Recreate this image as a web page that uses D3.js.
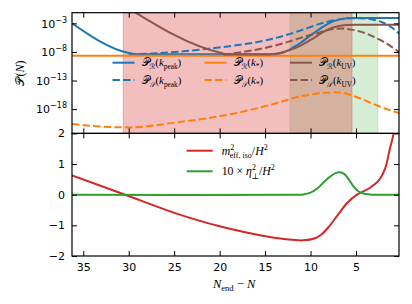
<!DOCTYPE html>
<html>
<head>
<meta charset="utf-8">
<script src="https://cdn.jsdelivr.net/npm/d3@7"></script>
<style>
  body { margin: 0; background: #fff; }
  svg { display: block; }
</style>
</head>
<body>
<svg id="chart"></svg>
<script>
// N_end - N en el eje x, invertido
const N_TICKS = [35, 30, 25, 20, 15, 10, 5];
const LOG_TICKS = [-3, -8, -13, -18];
const LIN_TICKS = [2, 1, 0, -1, -2];

// franjas sombreadas [desde, hasta]
const RED_SPAN = [30.6, 5.44];
const GREEN_SPAN = [12.26, 2.6];

// panel de arriba: pares [N_end - N, log10 P]
const PR_KPEAK = [[36.24, -3.0], [30.1, -8.15], [29.0, -8.4], [14.0, -8.4], [13.0, -8.1], [12.0, -7.3],
  [11.0, -6.3], [10.0, -5.1], [9.0, -4.0], [8.0, -3.0], [7.0, -2.4], [6.0, -2.12], [5.0, -2.05], [0.27, -2.05]];
const PS_KPEAK = [[30.0, -8.45], [27.0, -8.25], [24.0, -7.9], [21.0, -7.4], [18.0, -6.8], [15.0, -6.0],
  [13.0, -5.2], [11.0, -4.2], [9.0, -3.1], [7.0, -2.35], [5.5, -2.1], [4.0, -2.15], [3.0, -2.4],
  [2.0, -2.9], [1.2, -3.6], [0.27, -4.8]];
const PR_KSTAR = [[36.24, -8.65], [0.27, -8.65]];
const PS_KSTAR = [[36.24, -20.6], [33.2, -21.05], [29.9, -21.2], [24.9, -20.35], [18.5, -18.8],
  [14.5, -17.3], [11.2, -15.8], [7.0, -15.05], [4.6, -16.1], [2.4, -17.55], [0.27, -18.7]];
const PR_KUV = [[30.3, -0.1], [19.8, -8.2], [19.0, -8.45], [14.5, -8.45], [13.5, -8.25], [12.5, -7.8],
  [11.0, -6.8], [10.0, -5.9], [9.0, -4.9], [8.0, -4.0], [7.0, -3.5], [6.0, -3.3], [5.0, -3.25], [0.27, -3.25]];
const PS_KUV = [[19.6, -8.5], [17.0, -7.9], [15.0, -7.3], [13.0, -6.5], [11.0, -5.5], [9.0, -4.6],
  [7.5, -4.0], [6.5, -3.9], [5.5, -4.1], [4.0, -4.7], [3.0, -5.4], [2.0, -6.2], [1.0, -7.2], [0.27, -8.0]];

// panel de abajo
const M_EFF = [[36.24, 0.63], [30.4, 0], [24.9, -0.6], [20.0, -1.03], [14.5, -1.38], [12.0, -1.47],
  [10.8, -1.49], [9.5, -1.42], [8.8, -1.3], [8.0, -1.05], [7.1, -0.7], [6.0, -0.28], [4.9, 0],
  [3.5, 0.22], [2.4, 0.5], [1.8, 0.85], [1.3, 1.47], [0.8, 2.1], [0.27, 4.0]];
const ETA_PERP = [[36.24, 0], [11.5, 0], [10.8, 0.01], [10.0, 0.07], [9.2, 0.22], [8.5, 0.42], [7.8, 0.6],
  [7.2, 0.71], [6.8, 0.73], [6.3, 0.68], [5.8, 0.5], [5.3, 0.28], [4.8, 0.12], [4.2, 0.04],
  [3.5, 0.01], [2.8, 0], [0.27, 0]];

const WIDTH = 412;
const HEIGHT = 304;
const LEFT = 72, RIGHT = 399;
const TOP = 12.7, MID = 133.4, BOTTOM = 256;

const SANS = "'DejaVu Sans', sans-serif";
const SERIF = "'Liberation Serif', 'DejaVu Serif', serif";
const C = { blue: "#1f77b4", orange: "#ff7f0e", brown: "#8c564b", red: "#d62728", green: "#2ca02c" };

const SVG = d3.select("#chart").attr("width", WIDTH).attr("height", HEIGHT);

const x = d3.scaleLinear().domain([36.24, 0.27]).range([LEFT, RIGHT]);
const yTop = d3.scaleLinear().domain([-22.25, -1.14]).range([MID, TOP]); // log10 P
const yBot = d3.scaleLinear().domain([-2, 2]).range([BOTTOM, MID]);

SVG.append("clipPath").attr("id", "clip-top").append("rect")
  .attr("x", LEFT).attr("y", TOP).attr("width", RIGHT - LEFT).attr("height", MID - TOP);
SVG.append("clipPath").attr("id", "clip-bot").append("rect")
  .attr("x", LEFT).attr("y", MID).attr("width", RIGHT - LEFT).attr("height", BOTTOM - MID);

const gTop = SVG.append("g").attr("clip-path", "url(#clip-top)");
const gBot = SVG.append("g").attr("clip-path", "url(#clip-bot)");

// franjas
function span(s, color, alpha) {
  gTop.append("rect")
    .attr("x", x(s[0])).attr("y", TOP)
    .attr("width", x(s[1]) - x(s[0])).attr("height", MID - TOP)
    .attr("fill", color).attr("fill-opacity", alpha)
    .attr("stroke", color).attr("stroke-opacity", alpha).attr("stroke-width", 1);
}
span(GREEN_SPAN, C.green, 0.2);
span(RED_SPAN, C.red, 0.3);

const lineTop = d3.line().x(d => x(d[0])).y(d => yTop(d[1])).curve(d3.curveMonotoneX);
const lineBot = d3.line().x(d => x(d[0])).y(d => yBot(d[1])).curve(d3.curveCatmullRom.alpha(0.5));

const DASH = "7.4,3.2";
const topSeries = [
  { data: PR_KPEAK, color: C.blue, dash: null },
  { data: PS_KPEAK, color: C.blue, dash: DASH },
  { data: PR_KSTAR, color: C.orange, dash: null },
  { data: PS_KSTAR, color: C.orange, dash: DASH },
  { data: PR_KUV, color: C.brown, dash: null },
  { data: PS_KUV, color: C.brown, dash: DASH },
];

gTop.selectAll("path.serie")
  .data(topSeries)
  .join("path")
  .attr("class", "serie")
  .attr("d", d => lineTop(d.data))
  .attr("fill", "none")
  .attr("stroke", d => d.color)
  .attr("stroke-width", 2)
  .attr("stroke-dasharray", d => d.dash);

gBot.selectAll("path.serie")
  .data([{ data: M_EFF, color: C.red }, { data: ETA_PERP, color: C.green }])
  .join("path")
  .attr("class", "serie")
  .attr("d", d => lineBot(d.data))
  .attr("fill", "none")
  .attr("stroke", d => d.color)
  .attr("stroke-width", 2);

// ejes (ticks hacia adentro)
function styleAxis(g) {
  g.select(".domain").remove();
  g.selectAll(".tick line").attr("stroke", "#000").attr("stroke-width", 1);
  g.selectAll(".tick text").attr("fill", "#000").attr("font-family", SANS).attr("font-size", 11);
}
const TL = 5;
SVG.append("g").attr("transform", `translate(0,${TOP})`)
  .call(d3.axisTop(x).tickValues(N_TICKS).tickSize(-TL).tickFormat("")).call(styleAxis);
SVG.append("g").attr("transform", `translate(0,${MID})`)
  .call(d3.axisBottom(x).tickValues(N_TICKS).tickSize(-TL).tickFormat("")).call(styleAxis);
SVG.append("g").attr("transform", `translate(0,${MID})`)
  .call(d3.axisTop(x).tickValues(N_TICKS).tickSize(-TL).tickFormat("")).call(styleAxis);
SVG.append("g").attr("transform", `translate(0,${BOTTOM})`)
  .call(d3.axisBottom(x).tickValues(N_TICKS).tickSize(-TL).tickPadding(7)).call(styleAxis);

SVG.append("g").attr("transform", `translate(${LEFT},0)`)
  .call(d3.axisLeft(yTop).tickValues(LOG_TICKS).tickSize(-TL).tickPadding(5))
  .call(styleAxis)
  .call(g => g.selectAll(".tick text").each(function (d) {
    const t = d3.select(this).text(null).attr("dy", "0.35em");
    t.append("tspan").text("10");
    t.append("tspan").attr("font-size", 8).attr("dy", -5).text("\u2212" + Math.abs(d));
  }));
SVG.append("g").attr("transform", `translate(${RIGHT},0)`)
  .call(d3.axisRight(yTop).tickValues(LOG_TICKS).tickSize(-TL).tickFormat("")).call(styleAxis);

SVG.append("g").attr("transform", `translate(${LEFT},0)`)
  .call(d3.axisLeft(yBot).tickValues(LIN_TICKS).tickSize(-TL).tickPadding(7)
    .tickFormat(d => d < 0 ? "\u2212" + Math.abs(d) : d))
  .call(styleAxis);
SVG.append("g").attr("transform", `translate(${RIGHT},0)`)
  .call(d3.axisRight(yBot).tickValues(LIN_TICKS).tickSize(-TL).tickFormat("")).call(styleAxis);

// marcos
[[TOP, MID], [MID, BOTTOM]].forEach(([a, b]) => {
  SVG.append("rect").attr("x", LEFT).attr("y", a).attr("width", RIGHT - LEFT).attr("height", b - a)
    .attr("fill", "none").attr("stroke", "#000").attr("stroke-width", 1.2);
});

// texto matematico con sub/superindices
function mathText(g, tx, ty, parts, size) {
  const t = g.append("text").attr("x", tx).attr("y", ty)
    .attr("font-family", SERIF).attr("font-size", size).attr("fill", "#000");
  let cur = 0;
  parts.forEach(p => {
    const off = p.sub ? size * 0.3 : p.sup ? -size * 0.4 : 0;
    t.append("tspan")
      .attr("dy", off - cur)
      .attr("dx", p.dx || null)
      .attr("font-size", p.sub || p.sup ? size * 0.68 : size)
      .attr("font-style", p.it ? "italic" : null)
      .attr("font-weight", "normal")
      .attr("font-family", p.script ? "'DejaVu Serif', 'DejaVu Sans', serif" : null)
      .text(p.t);
    cur = off;
  });
  return t;
}

const P = "\u{1D4AB}", R = "\u211B", S = "\u{1D4AE}";
const legTop = [
  { col: 0, row: 0, color: C.blue, dash: null, sub: R, k: "peak" },
  { col: 0, row: 1, color: C.blue, dash: DASH, sub: S, k: "peak" },
  { col: 1, row: 0, color: C.orange, dash: null, sub: R, k: "*" },
  { col: 1, row: 1, color: C.orange, dash: DASH, sub: S, k: "*" },
  { col: 2, row: 0, color: C.brown, dash: null, sub: R, k: "UV" },
  { col: 2, row: 1, color: C.brown, dash: DASH, sub: S, k: "UV" },
];
const COL_X = [112.5, 204.5, 290];
const ROW_Y = [62.7, 80];
const gLeg = SVG.append("g");
legTop.forEach(d => {
  const lx = COL_X[d.col], ly = ROW_Y[d.row];
  gLeg.append("line").attr("x1", lx).attr("x2", lx + 22).attr("y1", ly).attr("y2", ly)
    .attr("stroke", d.color).attr("stroke-width", 2).attr("stroke-dasharray", d.dash);
  mathText(gLeg, lx + 29, ly + 3.5, [
    { t: P, script: true }, { t: d.sub, sub: true, script: true }, { t: "(" }, { t: "k", it: true },
    { t: d.k, sub: true }, { t: ")" }
  ], 10.8);
});

const legBot = [
  { y: 150.7, color: C.red, parts: [{ t: "m", it: true }, { t: "2", sup: true }, { t: "eff, iso", sub: true, dx: -4.5 },
    { t: "/" }, { t: "H", it: true }, { t: "2", sup: true }] },
  { y: 171.3, color: C.green, parts: [{ t: "10 \u00D7 " }, { t: "\u03B7", it: true }, { t: "2", sup: true },
    { t: "\u22A5", sub: true, dx: -4.5 }, { t: "/" }, { t: "H", it: true }, { t: "2", sup: true }] },
];
legBot.forEach(d => {
  gLeg.append("line").attr("x1", 186.7).attr("x2", 212.7).attr("y1", d.y).attr("y2", d.y)
    .attr("stroke", d.color).attr("stroke-width", 2);
  mathText(gLeg, 221.7, d.y + 3.8, d.parts, 11.8);
});

// etiquetas de ejes
mathText(SVG, 213, 287.5, [{ t: "N", it: true }, { t: "end", sub: true }, { t: " \u2212 " }, { t: "N", it: true }], 12.5);
mathText(SVG, 0, 0, [{ t: P, script: true }, { t: "(" }, { t: "N", it: true }, { t: ")" }], 12)
  .attr("transform", `translate(24,${(TOP + MID) / 2}) rotate(-90)`)
  .attr("text-anchor", "middle");
</script>
</body>
</html>
